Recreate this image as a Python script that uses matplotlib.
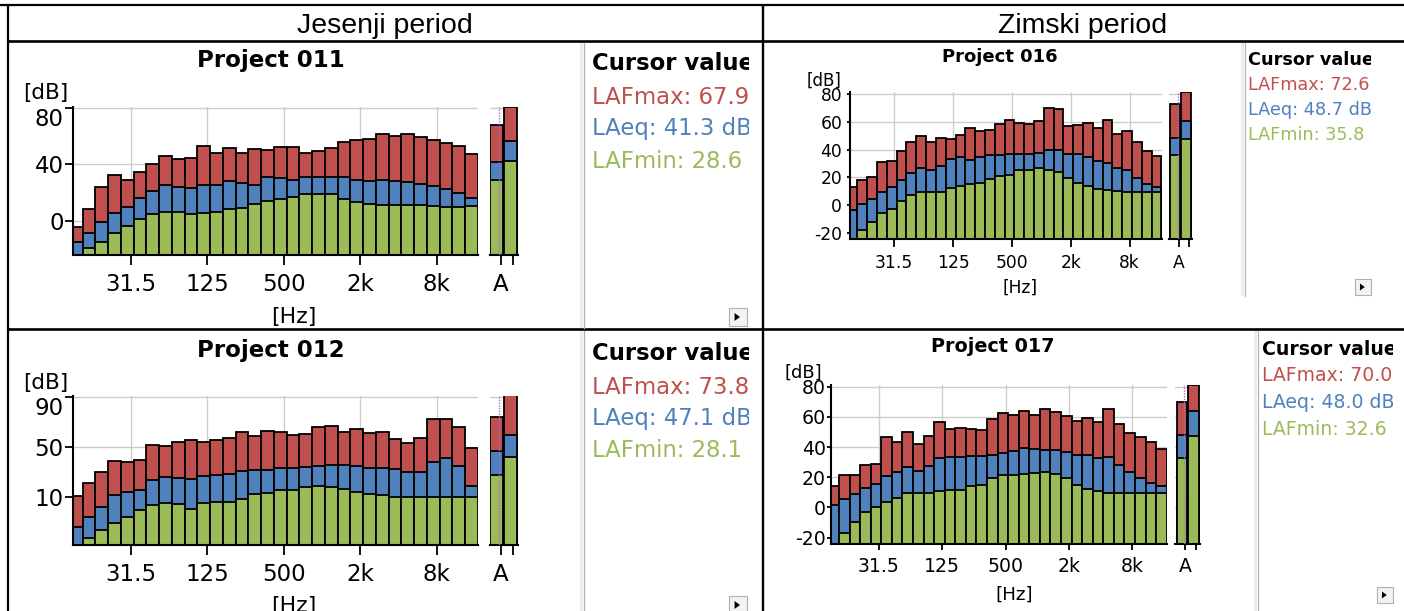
import numpy as np
import matplotlib
matplotlib.use("Agg")
import matplotlib.pyplot as plt
from matplotlib.patches import Rectangle, Polygon

W, H = 1404, 611

# ---------------- data ----------------
bands = ['12.5', '16', '20', '25', '31.5', '40', '50', '63', '80', '100', '125', '160',
         '200', '250', '315', '400', '500', '630', '800', '1k', '1.25k', '1.6k', '2k',
         '2.5k', '3.15k', '4k', '5k', '6.3k', '8k', '10k', '12.5k', '16k']
tick_bands = ['31.5', '125', '500', '2k', '8k']
sum_labels = ['A', '']

p011_max = [-4.7, 8.3, 23.6, 32.3, 28.6, 34.7, 40.1, 45.8, 43.7, 44.1, 53.1, 47.7, 51.2, 47.7, 50.5, 50.0,
            51.9, 51.9, 48.1, 49.6, 51.2, 55.9, 57.1, 57.8, 61.4, 59.9, 61.1, 59.0, 57.1, 55.3, 53.2, 47.2]
p011_eq = [-14.9, -8.9, -1.2, 5.2, 9.4, 15.8, 21.2, 25.3, 23.6, 23.4, 25.3, 25.3, 28.1, 26.4, 25.3, 31.2,
           30.0, 28.8, 31.2, 31.2, 31.2, 30.7, 28.8, 28.1, 28.8, 28.1, 27.6, 25.9, 24.4, 22.3, 19.8, 16.3]
p011_min = [-30.0, -19.1, -14.9, -8.5, -3.8, 1.4, 4.7, 6.4, 6.4, 4.7, 5.2, 6.4, 8.0, 8.7, 12.0, 13.9,
            15.3, 17.0, 18.9, 18.9, 18.6, 15.6, 13.0, 11.8, 11.1, 11.1, 11.1, 11.1, 10.6, 9.9, 9.9, 10.4]
p011_sum_max = [67.9, 80.6]
p011_sum_eq = [41.3, 56.4]
p011_sum_min = [28.6, 42.0]

p012_max = [11.3, 21.1, 29.9, 39.1, 38.3, 39.7, 51.6, 50.8, 54.2, 55.3, 54.2, 55.6, 56.9, 62.2, 58.7, 62.7,
            61.7, 59.3, 60.3, 66.2, 67.0, 62.2, 64.6, 61.4, 61.7, 56.4, 53.4, 57.4, 72.5, 72.5, 66.2, 49.5]
p012_eq = [-13.8, -5.9, 2.6, 11.9, 14.0, 15.8, 23.8, 25.9, 25.1, 24.6, 27.2, 27.7, 28.3, 30.9, 31.7, 31.7,
           33.0, 33.0, 34.4, 34.9, 35.7, 35.7, 34.9, 33.0, 33.0, 32.3, 29.9, 29.9, 38.3, 41.0, 34.9, 19.3]
p012_min = [-32.0, -22.1, -16.0, -10.1, -5.6, -0.1, 4.2, 5.8, 5.0, 1.0, 5.8, 6.6, 6.0, 8.4, 12.4, 13.7,
            15.8, 15.8, 18.5, 19.0, 18.5, 16.6, 14.0, 12.6, 11.9, 10.5, 10.5, 10.5, 10.5, 10.0, 10.0, 10.5]
p012_sum_max = [73.8, 91.0]
p012_sum_eq = [47.1, 59.5]
p012_sum_min = [28.1, 41.8]

p016_max = [12.8, 18.1, 20.5, 30.8, 32.0, 39.0, 45.8, 49.9, 45.5, 48.7, 47.5, 50.8, 55.7, 53.3, 54.2, 58.3,
            61.4, 59.5, 58.6, 60.7, 70.4, 69.6, 56.9, 58.1, 59.5, 55.7, 61.4, 51.3, 53.3, 45.5, 39.3, 35.2]
p016_eq = [-3.6, 0.7, 4.3, 9.4, 13.0, 17.8, 23.1, 26.5, 25.5, 28.2, 33.0, 34.5, 32.5, 34.9, 36.1, 36.1,
           36.6, 36.6, 36.9, 37.8, 39.8, 39.8, 36.9, 36.9, 34.9, 32.0, 30.6, 26.7, 25.1, 19.8, 15.2, 13.3]
p016_min = [-30.0, -18.1, -12.5, -6.0, -2.9, 2.9, 7.0, 9.6, 9.6, 9.4, 12.0, 14.0, 14.9, 15.7, 19.0, 21.0,
            21.7, 25.5, 25.1, 26.7, 25.5, 24.1, 19.5, 15.9, 13.5, 11.6, 10.6, 10.1, 9.4, 9.2, 9.2, 9.6]
p016_sum_max = [72.6, 81.4]
p016_sum_eq = [48.7, 61.0]
p016_sum_min = [35.8, 48.0]

p017_max = [14.3, 21.6, 21.6, 28.0, 28.5, 46.6, 43.5, 49.9, 42.2, 47.0, 56.5, 52.1, 52.3, 51.7, 51.0, 58.7,
            62.3, 61.4, 63.6, 61.4, 64.9, 62.9, 60.7, 57.0, 59.2, 56.7, 65.3, 55.2, 49.4, 46.4, 43.5, 38.6]
p017_eq = [1.3, 5.5, 9.1, 12.8, 15.7, 21.0, 23.2, 26.5, 24.3, 27.4, 32.7, 33.1, 33.1, 33.8, 34.0, 34.7,
           36.2, 37.3, 39.1, 38.6, 38.2, 38.2, 36.4, 34.9, 34.7, 32.5, 33.6, 28.3, 23.2, 19.6, 16.3, 13.9]
p017_min = [-30.0, -16.6, -9.9, -3.1, 0.2, 3.5, 6.0, 9.5, 9.7, 9.5, 11.0, 11.7, 11.7, 14.3, 15.0, 19.4,
            21.4, 21.2, 22.3, 23.0, 23.2, 22.1, 19.6, 15.2, 11.9, 10.6, 9.9, 9.9, 9.9, 9.5, 9.3, 9.7]
p017_sum_max = [70.0, 80.8]
p017_sum_eq = [48.0, 63.6]
p017_sum_min = [32.6, 47.5]

# ---------------- style ----------------
RED, BLUE, GREEN = '#c0504d', '#4f81bd', '#9bbb59'
GRID = '#cccccc'
plt.rcParams['font.family'] = ['DejaVu Sans']
plt.rcParams['axes.unicode_minus'] = False

fig = plt.figure(figsize=(W / 100, H / 100), dpi=100)


def fbox(x0, y0, x1, y1):
    return [x0 / W, 1 - y1 / H, (x1 - x0) / W, (y1 - y0) / H]


def chart(main_box, sum_box, ylim, yticks, vmax, veq, vmin, smax, seq, smin,
          sum_xlim, sum_ticks, cur_x, sum_w, fs, xlen, ylen, xpad, ypad, top_label_top):
    ax = fig.add_axes(fbox(*main_box))
    x = np.arange(len(bands))
    ymin = ylim[0]
    for vals, col in ((vmax, RED), (veq, BLUE), (vmin, GREEN)):
        v = np.asarray(vals, dtype=float)
        ax.bar(x, v - ymin, bottom=ymin, width=1.0, color=col, edgecolor='black',
               linewidth=1.3, zorder=2)
    ax.set_xlim(-0.26, len(bands) - 0.5 + 0.03)
    ax.set_ylim(*ylim)
    ax.set_xticks([bands.index(b) + 0.26 for b in tick_bands])
    ax.set_xticklabels(tick_bands)
    ax.set_yticks(yticks)
    ax.grid(True, color=GRID, linewidth=1.0, zorder=0)
    ax.set_axisbelow(True)
    for s in ('top', 'right'):
        ax.spines[s].set_visible(False)
    for s in ('left', 'bottom'):
        ax.spines[s].set_linewidth(1.5)
        ax.spines[s].set_zorder(3)
    ax.tick_params(axis='x', length=xlen, width=1.3, pad=xpad, labelsize=fs)
    ax.tick_params(axis='y', length=ylen, width=1.3, pad=ypad, labelsize=fs)
    if top_label_top:
        ax.get_yticklabels()[-1].set_verticalalignment('top')

    axs = fig.add_axes(fbox(*sum_box))
    xs = np.arange(len(smax))
    for vals, col in ((smax, RED), (seq, BLUE), (smin, GREEN)):
        v = np.asarray(vals, dtype=float)
        axs.bar(xs, v - ymin, bottom=ymin, width=sum_w, color=col, edgecolor='black',
                linewidth=1.3, zorder=2)
    axs.set_xlim(*sum_xlim)
    axs.set_ylim(*ylim)
    axs.set_yticks(yticks)
    axs.set_xticks(sum_ticks)
    axs.set_xticklabels(sum_labels)
    axs.grid(True, axis='y', color=GRID, linewidth=1.0, zorder=0)
    axs.set_axisbelow(True)
    for s in ('top', 'right', 'left'):
        axs.spines[s].set_visible(False)
    axs.spines['bottom'].set_linewidth(1.5)
    axs.tick_params(axis='y', length=0, labelleft=False)
    axs.tick_params(axis='x', length=xlen, width=1.3, pad=xpad, labelsize=fs)
    axs.axvline(cur_x, color='#a070c8', linewidth=1.0, linestyle=(0, (1, 1)), zorder=4)
    return ax, axs


# ---------------- charts ----------------
chart((73, 106.7, 478.3, 255), (490, 106.7, 518, 255), (-24.3, 80.7), [0, 40, 80],
      p011_max, p011_eq, p011_min, p011_sum_max, p011_sum_eq, p011_sum_min,
      (-0.454, 1.546), [0.332, 1.21], 0.21, 0.907, 16.5, 7.2, 5.8, 5.5, 1.0, True)
chart((73, 395.7, 478.3, 545), (490, 395.7, 518, 545), (-27.9, 90.8), [10, 50, 90],
      p012_max, p012_eq, p012_min, p012_sum_max, p012_sum_eq, p012_sum_min,
      (-0.454, 1.546), [0.332, 1.21], 0.21, 0.907, 16.5, 7.2, 5.8, 5.5, 1.0, True)
chart((850, 92.3, 1161.7, 239.3), (1169.3, 92.3, 1192.3, 239.3), (-24.8, 81.4),
      [-20, 0, 20, 40, 60, 80],
      p016_max, p016_eq, p016_min, p016_sum_max, p016_sum_eq, p016_sum_min,
      (-0.518, 1.573), [0.336, 1.245], 0.245, 0.91, 12.3, 5.8, 2.4, 5.0, 3.2, False)
chart((831, 385, 1167, 544.3), (1175, 385, 1200, 544.3), (-24.4, 81.1),
      [-20, 0, 20, 40, 60, 80],
      p017_max, p017_eq, p017_min, p017_sum_max, p017_sum_eq, p017_sum_min,
      (-0.598, 1.585), [0.275, 1.21], 0.19, 0.93, 13.6, 4.3, 3.1, 5.0, 0.5, False)

# ---------------- overlay (table, titles, units) ----------------
ov = fig.add_axes([0, 0, 1, 1])
ov.set_xlim(0, W)
ov.set_ylim(H, 0)
ov.axis('off')
ov.set_zorder(10)

# table lines
ov.plot([0, W], [5, 5], color='black', lw=1.6, solid_capstyle='butt')
ov.plot([8, W], [41.3, 41.3], color='black', lw=1.9, solid_capstyle='butt')
ov.plot([8, W], [329.3, 329.3], color='black', lw=1.9, solid_capstyle='butt')
ov.plot([8, 8], [5, H], color='black', lw=1.6, solid_capstyle='butt')
ov.plot([762.8, 762.8], [5, H], color='black', lw=1.7, solid_capstyle='butt')

ov.text(385, 33, 'Jesenji period', fontsize=20.5, family='Liberation Sans', ha='center', va='baseline')
ov.text(1083, 33, 'Zimski period', fontsize=20.5, family='Liberation Sans', ha='center', va='baseline')

# titles and axis units
ov.text(271, 67.5, 'Project 011', fontsize=16.5, fontweight='bold', ha='center', va='baseline')
ov.text(271, 356.5, 'Project 012', fontsize=16.5, fontweight='bold', ha='center', va='baseline')
ov.text(1000, 61.5, 'Project 016', fontsize=13, fontweight='bold', ha='center', va='baseline')
ov.text(992.5, 351.5, 'Project 017', fontsize=13.8, fontweight='bold', ha='center', va='baseline')

ov.text(45.8, 99.5, '[dB]', fontsize=15.5, ha='center', va='baseline')
ov.text(45.8, 388.5, '[dB]', fontsize=15.5, ha='center', va='baseline')
ov.text(824, 85.5, '[dB]', fontsize=12, ha='center', va='baseline')
ov.text(803, 377.5, '[dB]', fontsize=13, ha='center', va='baseline')

ov.text(294, 323, '[Hz]', fontsize=15.8, ha='center', va='baseline')
ov.text(294, 612, '[Hz]', fontsize=15.8, ha='center', va='baseline')
ov.text(1020.5, 292.5, '[Hz]', fontsize=12.3, ha='center', va='baseline')
ov.text(1014.5, 600, '[Hz]', fontsize=13.2, ha='center', va='baseline')


# ---------------- cursor panels ----------------
def cursor_panel(clip, tx, baselines, fs, smax, seq, smin, divider, button):
    x0, y0, x1, y1 = clip
    cp = fig.add_axes(fbox(x0, y0, x1, y1))
    cp.set_xlim(x0, x1)
    cp.set_ylim(y1, y0)
    cp.axis('off')
    cp.set_zorder(11)
    lines = [('Cursor values', 'black', 'bold'),
             (f'LAFmax: {smax[0]:.1f} dB', RED, 'normal'),
             (f'LAeq: {seq[0]:.1f} dB', BLUE, 'normal'),
             (f'LAFmin: {smin[0]:.1f} dB', GREEN, 'normal')]
    for (s, c, w), b in zip(lines, baselines):
        cp.text(tx, b, s, color=c, fontsize=fs, fontweight=w, ha='left', va='baseline', clip_on=True)
    dx, dy0, dy1 = divider
    ov.add_patch(Rectangle((dx - 4, dy0), 3.2, dy1 - dy0, facecolor='#ececec', edgecolor='none'))
    ov.plot([dx, dx], [dy0, dy1], color='#b4b4b4', lw=0.9)
    bx, by, bs = button
    ov.add_patch(Rectangle((bx, by), bs, bs, facecolor='#f2f2f2', edgecolor='#b0b0b0', lw=0.8))
    cx, cy = bx + bs * 0.45, by + bs * 0.5
    tri = bs * 0.2
    ov.add_patch(Polygon([(cx - tri * 0.7, cy - tri * 1.1), (cx - tri * 0.7, cy + tri * 1.1),
                          (cx + tri * 0.8, cy)], closed=True, facecolor='black', edgecolor='none'))


cursor_panel((585, 43, 749, 328), 591.7, [70.5, 103.5, 135, 167.5], 16.4,
             p011_sum_max, p011_sum_eq, p011_sum_min, (583.5, 42.5, 328), (729, 308, 18))
cursor_panel((585, 331, 749, 611), 591.7, [360.5, 393.5, 425, 457.3], 16.4,
             p012_sum_max, p012_sum_eq, p012_sum_min, (583.5, 330.5, 611), (729, 596, 18))
cursor_panel((1246, 43, 1370.5, 296), 1248.3, [64.7, 89.7, 115.3, 139.7], 12.7,
             p016_sum_max, p016_sum_eq, p016_sum_min, (1244.5, 42.5, 296), (1355, 279, 16))
cursor_panel((1259, 331, 1393, 611), 1262, [355, 381, 408, 435], 13.6,
             p017_sum_max, p017_sum_eq, p017_sum_min, (1257.5, 330.5, 611), (1377, 587, 16))

fig.savefig('out.png', dpi=100)
